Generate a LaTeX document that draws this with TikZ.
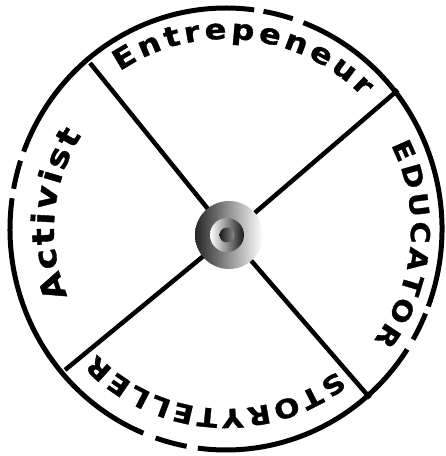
\documentclass[tikz,border=0pt]{standalone}
\usepackage{fontspec}
\usepackage{tikz}
\usetikzlibrary{decorations.text}
\newfontfamily\wheelfont[FakeStretch=1.15,BoldFeatures={FakeBold=1.2}]{DejaVu Sans}
\newcommand\wheelsize[1]{\wheelfont\bfseries\fontsize{#1}{#1}\selectfont}

\begin{document}
\begin{tikzpicture}[x=1pt,y=1pt,
    rim/.style={line width=5pt},
    spoke/.style={line width=4.5pt},
    arclabel/.style={decorate,decoration={text along path,text align=fit to path,text={#1}}}]
  \useasboundingbox (0,0) rectangle (446,456);
  \coordinate (C) at (226,227);
  \coordinate (hub) at (229,221);
  \coordinate (nw) at (90,393);
  \coordinate (ne) at (398,366);
  \coordinate (sw) at (65,86);
  \coordinate (se) at (370,58);
  % rim with short dashes
  \foreach \a/\b in {-20.5/69,72/80,82.5/159.5,162/169.5,172/247.5,251/259.5,262.5/327,330/337.5}
    \draw[rim] ([shift={(\a:216 and 221)}]C) arc[start angle=\a,end angle=\b,x radius=216,y radius=221];
  \draw[spoke] (hub) -- (nw);
  \draw[spoke] (hub) -- (ne);
  \draw[spoke] (hub) -- (sw);
  \draw[spoke] (hub) -- (se);
  % labels
  \path[arclabel={|\wheelsize{28}|Entrepeneur}] ([shift={(124:190)}]C) arc[start angle=124,end angle=44,radius=190];
  \path[arclabel={|\wheelsize{26}|EDUCATOR}] ([shift={(27:185)}]C) arc[start angle=27,end angle=-37,radius=185];
  \path[arclabel={|\wheelsize{26}|STORYTELLER}] ([shift={(-52:180)}]C) arc[start angle=-52,end angle=-136,radius=180];
  \path[arclabel={|\wheelsize{31}|Activist}] ([shift={(203:172)}]C) arc[start angle=203,end angle=147,radius=172];
  % hub
  \shade[left color=black!85,right color=white] (hub) circle (34);
  \shade[left color=white,right color=black!90] ([xshift=-2pt]hub) circle (17);
  \shade[left color=black!90,right color=black!45] ([xshift=-2pt]hub) circle (7.5);
\end{tikzpicture}
\end{document}
